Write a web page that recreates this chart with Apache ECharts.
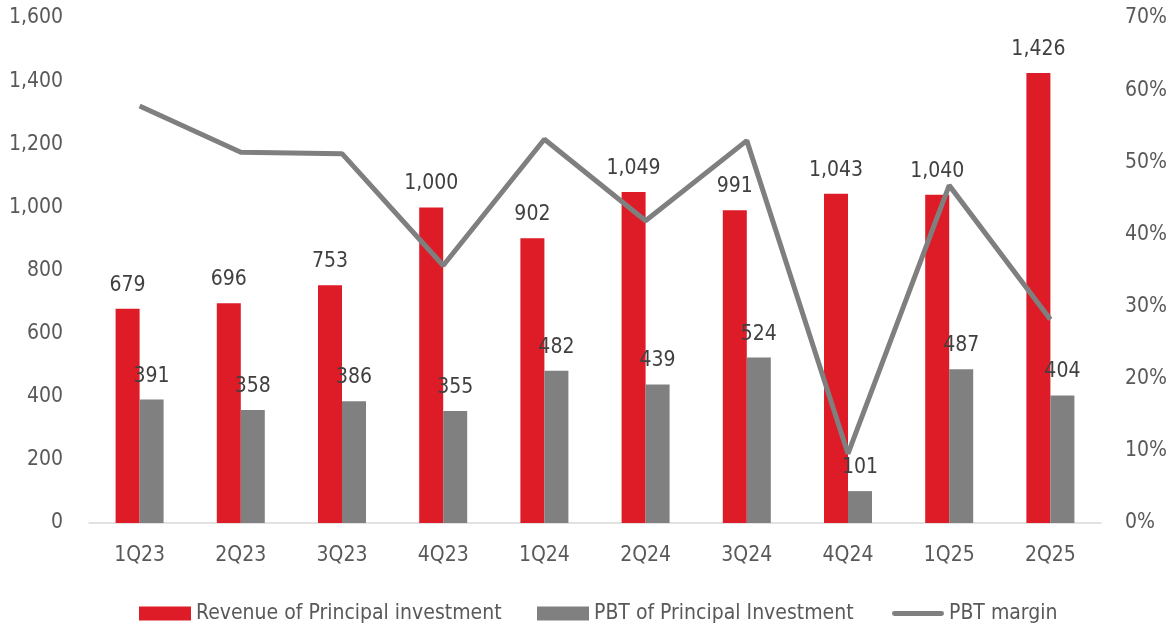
<!DOCTYPE html>
<html>
<head>
<meta charset="utf-8">
<script src="https://cdn.jsdelivr.net/npm/echarts@6/dist/echarts.min.js"></script>
<style>
  html, body { margin: 0; padding: 0; background: #fff; }
  #chart { width: 1173px; height: 627px; }
</style>
</head>
<body>
<div id="chart"></div>
<script>
const quarters = ["1Q23", "2Q23", "3Q23", "4Q23", "1Q24", "2Q24", "3Q24", "4Q24", "1Q25", "2Q25"];
const revenue = [679, 696, 753, 1000, 902, 1049, 991, 1043, 1040, 1426];
const pbt = [391, 358, 386, 355, 482, 439, 524, 101, 487, 404];
const margin = [57.8, 51.4, 51.2, 35.7, 53.2, 41.9, 53.0, 9.6, 46.8, 28.2];

const font = "'DejaVu Sans Condensed', sans-serif";
const textColor = "#595959";

const chart = echarts.init(document.getElementById("chart"));

const labelStyle = {
    show: true,
    position: "top",
    distance: 13,
    fontFamily: font,
    fontSize: 21,
    color: "#404040",
    formatter: p => p.value.toLocaleString("en-US")
};

const legendBase = {
    top: 598,
    itemWidth: 52,
    itemHeight: 14,
    textStyle: { fontFamily: font, fontSize: 21, color: textColor }
};

chart.setOption({
    animation: false,
    textStyle: { fontFamily: font },
    grid: { left: 89, right: 72, top: 18, bottom: 104 },
    legend: [
        { ...legendBase, left: 134, data: [{ name: "Revenue of Principal investment", icon: "rect" }] },
        { ...legendBase, left: 532, data: [{ name: "PBT of Principal Investment", icon: "rect" }] },
        { ...legendBase, left: 887, data: [{ name: "PBT margin", icon: "path://M2,0 L50,0 A2.5,2.5 0 0 1 50,5 L2,5 A2.5,2.5 0 0 1 2,0 Z" }] }
    ],
    xAxis: {
        type: "category",
        data: quarters,
        axisLine: { lineStyle: { color: "#d9d9d9", width: 1.5 } },
        axisTick: { show: false },
        axisLabel: { fontFamily: font, fontSize: 21, color: textColor, margin: 22 }
    },
    yAxis: [
        {
            type: "value",
            min: 0,
            max: 1600,
            interval: 200,
            splitLine: { show: false },
            axisLine: { show: false },
            axisTick: { show: false },
            axisLabel: {
                fontFamily: font, fontSize: 21, color: textColor, margin: 26,
                formatter: v => v.toLocaleString("en-US")
            }
        },
        {
            type: "value",
            min: 0,
            max: 70,
            interval: 10,
            splitLine: { show: false },
            axisLine: { show: false },
            axisTick: { show: false },
            axisLabel: {
                fontFamily: font, fontSize: 21, color: textColor, margin: 24,
                formatter: v => v + "%"
            }
        }
    ],
    series: [
        {
            name: "Revenue of Principal investment",
            type: "bar",
            data: revenue,
            barWidth: 24,
            barGap: "0%",
            itemStyle: { color: "#dd1c27" },
            label: labelStyle
        },
        {
            name: "PBT of Principal Investment",
            type: "bar",
            data: pbt,
            barWidth: 24,
            barGap: "0%",
            itemStyle: { color: "#808080" },
            label: labelStyle
        },
        {
            name: "PBT margin",
            type: "line",
            yAxisIndex: 1,
            data: margin,
            symbol: "none",
            lineStyle: { color: "#7f7f7f", width: 5 },
            itemStyle: { color: "#7f7f7f" },
            z: 5
        }
    ]
});
</script>
</body>
</html>
